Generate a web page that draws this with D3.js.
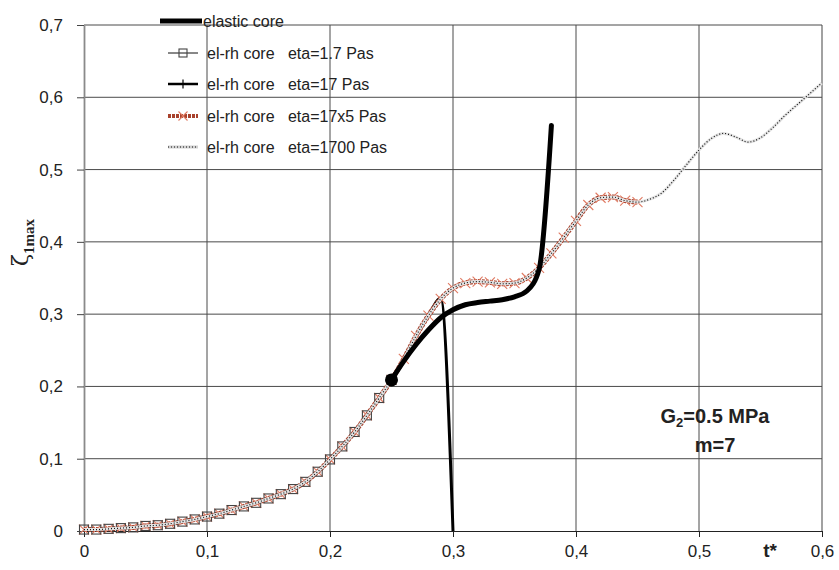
<!DOCTYPE html>
<html>
<head>
<meta charset="utf-8">
<script src="https://d3js.org/d3.v7.min.js"></script>
<style>
  body { margin: 0; background: #fff; }
  svg text { font-family: "Liberation Sans", Arial, sans-serif; fill: #222; }
  .leg text { white-space: pre; }
</style>
</head>
<body>
<svg width="839" height="570"></svg>
<script>
// t* every 0.01
var tAll = [0,0.01,0.02,0.03,0.04,0.05,0.06,0.07,0.08,0.09,
            0.10,0.11,0.12,0.13,0.14,0.15,0.16,0.17,0.18,0.19,
            0.20,0.21,0.22,0.23,0.24,0.25,0.26,0.27,0.28,0.29,
            0.30,0.31,0.32,0.33,0.34,0.35,0.36,0.37,0.38,0.39,
            0.40,0.41,0.42,0.43,0.44,0.45,0.46,0.47,0.48,0.49,
            0.50,0.51,0.52,0.53,0.54,0.55,0.56,0.57,0.58,0.59,0.60];

// eta = 1700 Pas (whole range)
var zeta1700 = [0.002,0.002,0.003,0.004,0.005,0.007,0.008,0.010,0.013,0.016,
                0.020,0.024,0.029,0.034,0.039,0.045,0.051,0.058,0.068,0.082,
                0.099,0.117,0.137,0.160,0.184,0.209,0.238,0.270,0.298,0.321,
                0.336,0.343,0.345,0.344,0.342,0.343,0.350,0.364,0.384,0.406,
                0.429,0.451,0.461,0.462,0.457,0.455,0.459,0.468,0.486,0.507,
                0.527,0.543,0.550,0.545,0.538,0.544,0.558,0.575,0.590,0.605,0.620];

// eta = 17x5 Pas (t = 0 .. 0.45)
var zeta17x5 = [0.002,0.002,0.003,0.004,0.005,0.007,0.008,0.010,0.013,0.016,
                0.020,0.024,0.029,0.034,0.039,0.045,0.051,0.058,0.068,0.082,
                0.099,0.117,0.137,0.160,0.184,0.209,0.238,0.270,0.298,0.321,
                0.336,0.343,0.345,0.344,0.342,0.343,0.350,0.364,0.384,0.406,
                0.429,0.451,0.461,0.462,0.457,0.455];

// eta = 17 Pas (t = 0 .. 0.30, collapses at 0.30)
var zeta17 = [0.002,0.002,0.003,0.004,0.005,0.007,0.008,0.010,0.013,0.016,
              0.020,0.024,0.029,0.034,0.039,0.045,0.051,0.058,0.068,0.082,
              0.099,0.117,0.137,0.160,0.184,0.209,0.238,0.270,0.298,0.322,0.000];

// eta = 1.7 Pas (t = 0 .. 0.25)
var zeta1_7 = [0.002,0.002,0.003,0.004,0.005,0.007,0.008,0.010,0.013,0.016,
               0.020,0.024,0.029,0.034,0.039,0.045,0.051,0.058,0.068,0.082,
               0.099,0.117,0.137,0.160,0.184,0.209];

// elastic core (starts at t = 0.25)
var tElastic = [0.25,0.26,0.27,0.28,0.29,0.30,0.31,0.32,0.33,0.34,0.35,0.36,0.37,0.38];
var zetaElastic = [0.209,0.235,0.258,0.278,0.295,0.306,0.313,0.316,0.318,0.320,0.324,0.332,0.362,0.561];

var startPoint = [0.25, 0.209];

var xTicks = [0, 0.1, 0.2, 0.3, 0.4, 0.5, 0.6];
var yTicks = [0, 0.1, 0.2, 0.3, 0.4, 0.5, 0.6, 0.7];

var legendLabels = ["elastic core",
                    "el-rh core   eta=1.7 Pas",
                    "el-rh core   eta=17 Pas",
                    "el-rh core   eta=17x5 Pas",
                    "el-rh core   eta=1700 Pas"];

var svg = d3.select("svg");
var pL = 84, pR = 822, pT = 25, pB = 531;

var x = d3.scaleLinear().domain([0, 0.6]).range([pL, pR]);
var y = d3.scaleLinear().domain([0, 0.7]).range([pB, pT]);

var fmt = function(d) { return d === 0 ? "0" : d3.format(".1f")(d).replace(".", ","); };

function pts(ts, zs) { return zs.map(function(z, i) { return [ts[i], z]; }); }

// grid
var grid = svg.append("g");
grid.selectAll(".gx").data(xTicks.slice(1)).enter().append("line")
  .attr("x1", function(d) { return x(d); }).attr("x2", function(d) { return x(d); })
  .attr("y1", pT).attr("y2", pB)
  .attr("stroke", function(d) { return d === 0.6 ? "#8a8a8a" : "#4a4a4a"; })
  .attr("stroke-width", function(d) { return d === 0.6 ? 1.6 : 1; });
grid.selectAll(".gy").data(yTicks.slice(1)).enter().append("line")
  .attr("x1", pL).attr("x2", pR)
  .attr("y1", function(d) { return y(d); }).attr("y2", function(d) { return y(d); })
  .attr("stroke", "#4a4a4a").attr("stroke-width", 1);

// axes
var gx = svg.append("g").attr("transform", "translate(0," + pB + ")")
  .call(d3.axisBottom(x).tickValues(xTicks).tickSize(6).tickSizeOuter(0).tickFormat(fmt));
gx.select(".domain").attr("stroke", "#222");
gx.selectAll("line").attr("stroke", "#222");
gx.selectAll("text").attr("font-size", 17).attr("dy", "1.0em").attr("fill", "#222")
  .attr("font-family", "'Liberation Sans', Arial, sans-serif");

var gy = svg.append("g").attr("transform", "translate(" + pL + ",0)")
  .call(d3.axisLeft(y).tickValues(yTicks).tickSize(7).tickSizeOuter(0).tickFormat(fmt));
gy.select(".domain").attr("stroke", "#8a8a8a").attr("stroke-width", 1.8);
gy.selectAll("line").attr("stroke", "#444");
gy.selectAll("text").attr("font-size", 17).attr("x", -21).attr("fill", "#222")
  .attr("font-family", "'Liberation Sans', Arial, sans-serif");

var line = d3.line().x(function(d) { return x(d[0]); }).y(function(d) { return y(d[1]); })
  .curve(d3.curveMonotoneX);

// series styles
var redCol = "#a8412c", xCol = "#e07a62";

function drawX(g, cx, cy, s) {
  g.append("path").attr("d", "M" + (cx - s) + "," + (cy - s) + "L" + (cx + s) + "," + (cy + s) +
    "M" + (cx - s) + "," + (cy + s) + "L" + (cx + s) + "," + (cy - s))
    .attr("stroke", xCol).attr("stroke-width", 1.1).attr("fill", "none");
}
function drawSq(g, cx, cy, s) {
  g.append("rect").attr("x", cx - s).attr("y", cy - s).attr("width", 2 * s).attr("height", 2 * s)
    .attr("fill", "none").attr("stroke", "#444").attr("stroke-width", 1.1);
}
function drawPlus(g, cx, cy, s) {
  g.append("path").attr("d", "M" + (cx - s) + "," + cy + "L" + (cx + s) + "," + cy +
    "M" + cx + "," + (cy - s) + "L" + cx + "," + (cy + s))
    .attr("stroke", "#000").attr("stroke-width", 1.2).attr("fill", "none");
}

var plot = svg.append("g");

// eta = 17 (underneath)
var d17 = pts(tAll, zeta17);
plot.append("path").attr("d", line(d17)).attr("fill", "none")
  .attr("stroke", "#000").attr("stroke-width", 3);

// eta = 17x5
var d17x5 = pts(tAll, zeta17x5);
plot.append("path").attr("d", line(d17x5)).attr("fill", "none")
  .attr("stroke", redCol).attr("stroke-width", 5).attr("stroke-dasharray", "3,1");
d17x5.forEach(function(d) { drawX(plot, x(d[0]), y(d[1]), 5); });

// eta = 1.7
var d1_7 = pts(tAll, zeta1_7);
plot.append("path").attr("d", line(d1_7)).attr("fill", "none")
  .attr("stroke", "#111").attr("stroke-width", 1);
d1_7.forEach(function(d) { drawSq(plot, x(d[0]), y(d[1]), 4.5); });

// eta = 1700
var d1700 = pts(tAll, zeta1700);
plot.append("path").attr("d", line(d1700)).attr("fill", "none")
  .attr("stroke", "#e4e4e4").attr("stroke-width", 3);
plot.append("path").attr("d", line(d1700)).attr("fill", "none")
  .attr("stroke", "#111").attr("stroke-width", 1.2).attr("stroke-dasharray", "1,2");

// elastic core
var dEl = pts(tElastic, zetaElastic);
plot.append("path").attr("d", line(dEl)).attr("fill", "none")
  .attr("stroke", "#000").attr("stroke-width", 5).attr("stroke-linecap", "round");
plot.append("circle").attr("cx", x(startPoint[0])).attr("cy", y(startPoint[1]))
  .attr("r", 6.5).attr("fill", "#000");

// legend
var leg = svg.append("g").attr("class", "leg");
var legY = [21, 53, 84, 116, 147];
legendLabels.forEach(function(lab, i) {
  var yy = legY[i];
  if (i === 0) {
    leg.append("line").attr("x1", 160).attr("x2", 202).attr("y1", yy).attr("y2", yy)
      .attr("stroke", "#000").attr("stroke-width", 5);
  } else if (i === 1) {
    leg.append("line").attr("x1", 168).attr("x2", 198).attr("y1", yy).attr("y2", yy)
      .attr("stroke", "#111").attr("stroke-width", 1);
    drawSq(leg, 183, yy, 4);
  } else if (i === 2) {
    leg.append("line").attr("x1", 168).attr("x2", 198).attr("y1", yy).attr("y2", yy)
      .attr("stroke", "#000").attr("stroke-width", 2.5);
    drawPlus(leg, 183, yy, 4.5);
  } else if (i === 3) {
    leg.append("line").attr("x1", 168).attr("x2", 198).attr("y1", yy).attr("y2", yy)
      .attr("stroke", redCol).attr("stroke-width", 4).attr("stroke-dasharray", "3,1");
    drawX(leg, 183, yy, 4.5);
  } else {
    leg.append("line").attr("x1", 168).attr("x2", 198).attr("y1", yy).attr("y2", yy)
      .attr("stroke", "#d0d0d0").attr("stroke-width", 3);
    leg.append("line").attr("x1", 168).attr("x2", 198).attr("y1", yy).attr("y2", yy)
      .attr("stroke", "#111").attr("stroke-width", 1.2).attr("stroke-dasharray", "1,2");
  }
  leg.append("text").attr("x", i === 0 ? 203 : 207).attr("y", yy + 6)
    .attr("font-size", 16).text(lab);
});

// axis titles
var yl = svg.append("text").attr("transform", "translate(28,266) rotate(-90)");
yl.append("tspan").attr("font-family", "'DejaVu Serif', serif").attr("font-size", 22).text("ζ");
yl.append("tspan").attr("font-family", "'Liberation Serif', 'Times New Roman', serif")
  .attr("font-weight", "bold").attr("font-size", 15).attr("dy", 6).text("1max");

svg.append("text").attr("x", 770).attr("y", 557).attr("text-anchor", "middle")
  .attr("font-size", 19).attr("font-weight", "bold").text("t*");

// annotation
var ann = svg.append("text").attr("x", 715).attr("y", 423).attr("text-anchor", "middle")
  .attr("font-size", 20).attr("font-weight", "bold");
ann.append("tspan").text("G");
ann.append("tspan").attr("font-size", 13).attr("dy", 4).text("2");
ann.append("tspan").attr("dy", -4).text("=0.5 MPa");
svg.append("text").attr("x", 715).attr("y", 452).attr("text-anchor", "middle")
  .attr("font-size", 20).attr("font-weight", "bold").text("m=7");
</script>
</body>
</html>
